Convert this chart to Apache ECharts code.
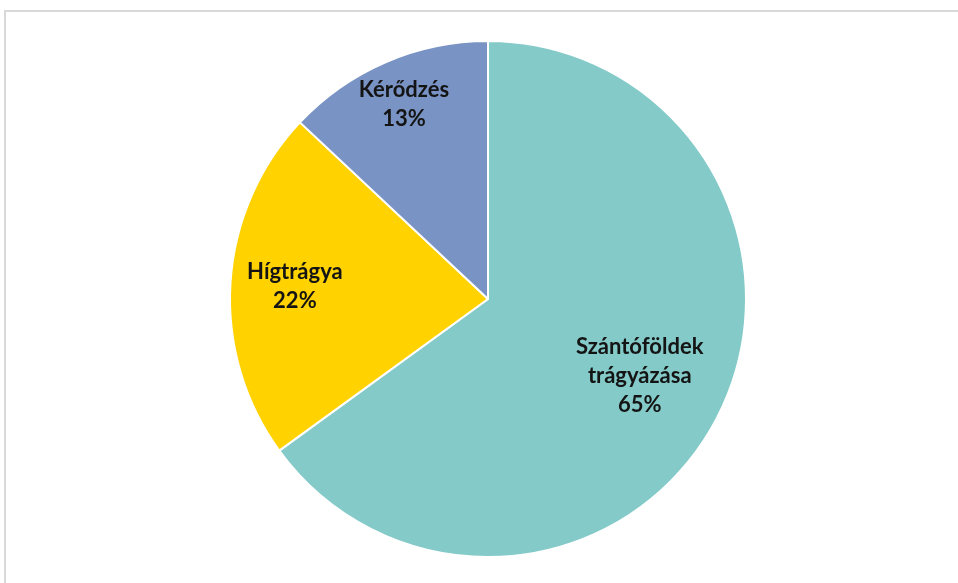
<!DOCTYPE html>
<html>
<head>
<meta charset="utf-8">
<script src="https://cdn.jsdelivr.net/npm/echarts@6/dist/echarts.min.js"></script>
<style>
  html, body { margin: 0; padding: 0; background: #fff; }
  #wrap { position: relative; width: 958px; height: 583px; overflow: hidden; }
  #frame { position: absolute; left: 4px; top: 10px; width: 1000px; height: 700px;
           border-top: 2px solid #d9d9d9; border-left: 2px solid #d9d9d9; box-sizing: border-box; }
  #chart { position: absolute; left: 0; top: 0; width: 958px; height: 583px; }
</style>
</head>
<body>
<div id="wrap">
  <div id="frame"></div>
  <div id="chart"></div>
</div>
<script>
// Categories and shares (percent)
const categories = ['Szántóföldek\ntrágyázása', 'Hígtrágya', 'Kérődzés'];
const shares = [65, 22, 13];
const colors = ['#83CAC8', '#FFD200', '#7993C4'];

// Label placement as a fraction of the radius, per slice
const labelRadius = [0.66, 0.75, 0.82];

const CX = 488, CY = 299, R = 258;

const total = shares.reduce((a, b) => a + b, 0);
const midAngles = [];
let acc = 0;
shares.forEach(v => {
  midAngles.push((acc + v / 2) / total * 2 * Math.PI);
  acc += v;
});

const chart = echarts.init(document.getElementById('chart'), null, { renderer: 'canvas' });
chart.setOption({
  backgroundColor: 'transparent',
  animation: false,
  series: [{
    type: 'pie',
    center: [CX, CY],
    radius: [0, R],
    startAngle: 90,
    clockwise: true,
    itemStyle: { borderColor: '#ffffff', borderWidth: 2 },
    label: {
      show: true,
      position: 'inside',
      color: '#141414',
      fontFamily: 'Lato',
      fontWeight: 'bold',
      fontSize: 22,
      lineHeight: 29,
      align: 'center',
      formatter: p => p.name + '\n' + Math.round(p.percent) + '%'
    },
    labelLine: { show: false },
    labelLayout: p => {
      const i = p.dataIndex;
      const a = midAngles[i];
      return {
        x: CX + labelRadius[i] * R * Math.sin(a),
        y: CY - labelRadius[i] * R * Math.cos(a),
        align: 'center',
        verticalAlign: 'middle'
      };
    },
    emphasis: { disabled: true },
    data: categories.map((name, i) => ({
      name: name,
      value: shares[i],
      itemStyle: { color: colors[i] }
    }))
  }]
});
</script>
</body>
</html>
